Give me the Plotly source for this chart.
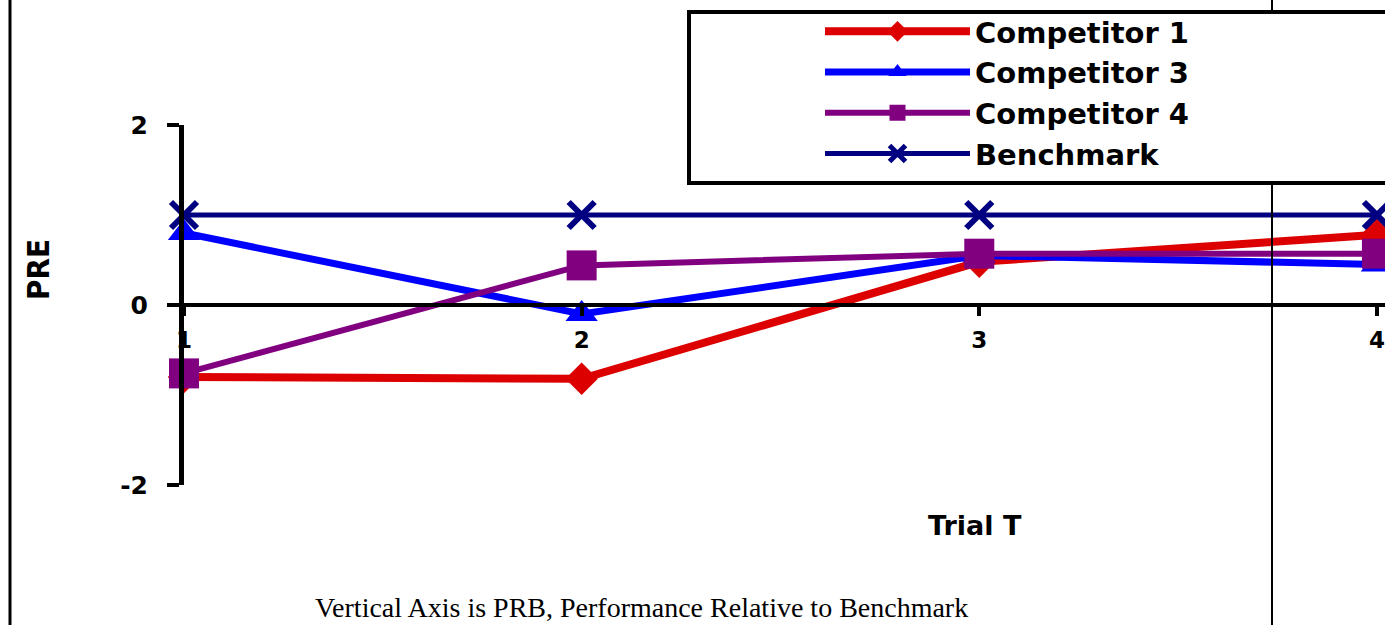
import plotly.graph_objects as go

trials = [1, 2, 3, 4]
tick_labels = ["1", "2", "3", "4"]
comp1 = [-0.80, -0.82, 0.48, 0.78]
comp3 = [0.80, -0.10, 0.55, 0.45]
comp4 = [-0.76, 0.44, 0.57, 0.57]
bench = [1.0, 1.0, 1.0, 1.0]

W, H = 1385, 625
L, R, T, B = 184, 0, 125, 140
pw, ph = W - L - R, H - T - B

def px_x(p):
    return (p - L) / pw

def px_y(p):
    return (H - B - p) / ph

fig = go.Figure()
fig.add_trace(go.Scatter(x=trials, y=comp1, name="Competitor 1", mode="lines+markers",
                         line=dict(color="#DD0000", width=8),
                         marker=dict(symbol="diamond", size=25, color="#DD0000"), cliponaxis=False))
fig.add_trace(go.Scatter(x=trials, y=comp3, name="Competitor 3", mode="lines+markers",
                         line=dict(color="#0000FF", width=7),
                         marker=dict(symbol="triangle-up", size=28, color="#0000FF"), cliponaxis=False))
fig.add_trace(go.Scatter(x=trials, y=comp4, name="Competitor 4", mode="lines+markers",
                         line=dict(color="#800080", width=6),
                         marker=dict(symbol="square", size=30, color="#800080"), cliponaxis=False))
fig.add_trace(go.Scatter(x=trials, y=bench, name="Benchmark", mode="lines+markers",
                         line=dict(color="#000080", width=5),
                         marker=dict(symbol="x-thin-open", size=26, line=dict(color="#000080", width=6)),
                         cliponaxis=False))

fig.update_layout(
    width=W, height=H,
    margin=dict(l=L, r=R, t=T, b=B),
    paper_bgcolor="white", plot_bgcolor="white",
    showlegend=True,
    legend=dict(x=px_x(820), y=px_y(6), xanchor="left", yanchor="top",
                bgcolor="rgba(0,0,0,0)", borderwidth=0, itemwidth=145,
                font=dict(family="DejaVu Sans", size=29, color="black", weight="bold")),
    xaxis=dict(range=[1, 1 + (W - R - L + 2) / 398.3], anchor="free", position=0.5,
               tickmode="array", tickvals=trials, ticktext=tick_labels,
               showline=True, linecolor="black", linewidth=4,
               ticks="outside", ticklen=9, tickwidth=4, tickcolor="black",
               showgrid=False, zeroline=False, ticklabelstandoff=4,
               tickfont=dict(family="DejaVu Sans", size=23, color="black", weight="bold")),
    yaxis=dict(range=[-2, 2], tickvals=[-2, 0, 2], ticktext=["-2", "0", "2"],
               showline=True, linecolor="black", linewidth=5,
               ticks="outside", ticklen=12, tickwidth=4, tickcolor="black",
               showgrid=False, zeroline=False,
               tickfont=dict(family="DejaVu Sans", size=25, color="black", weight="bold"),
               ticklabelstandoff=14),
    shapes=[
        dict(type="line", xref="paper", yref="paper", x0=px_x(10), x1=px_x(10), y0=px_y(H + 5), y1=px_y(-5),
             line=dict(color="black", width=3), layer="above"),
        dict(type="line", xref="paper", yref="paper", x0=px_x(1272), x1=px_x(1272), y0=px_y(H + 5), y1=px_y(-5),
             line=dict(color="black", width=2), layer="above"),
        dict(type="rect", xref="paper", yref="paper", x0=px_x(689), x1=px_x(1400), y0=px_y(183), y1=px_y(12),
             line=dict(color="black", width=4), fillcolor="white", layer="above"),
    ],
    annotations=[
        dict(text="PRE", xref="paper", yref="paper", x=px_x(38), y=px_y(270), textangle=-90,
             xanchor="center", yanchor="middle", showarrow=False,
             font=dict(family="DejaVu Sans Condensed", size=31, color="black", weight="bold")),
        dict(text="Trial T", xref="paper", yref="paper", x=px_x(975), y=px_y(525),
             xanchor="center", yanchor="middle",
             showarrow=False, font=dict(family="DejaVu Sans", size=27, color="black", weight="bold")),
        dict(text="Vertical Axis is PRB, Performance Relative to Benchmark", xref="paper", yref="paper",
             x=px_x(641), y=px_y(607), xanchor="center", yanchor="middle", showarrow=False,
             font=dict(family="Liberation Serif", size=28, color="black")),
    ],
)

fig.write_html("out.html", config={"displayModeBar": False},
               post_script="document.body.style.margin='0';document.body.style.overflow='hidden';")
